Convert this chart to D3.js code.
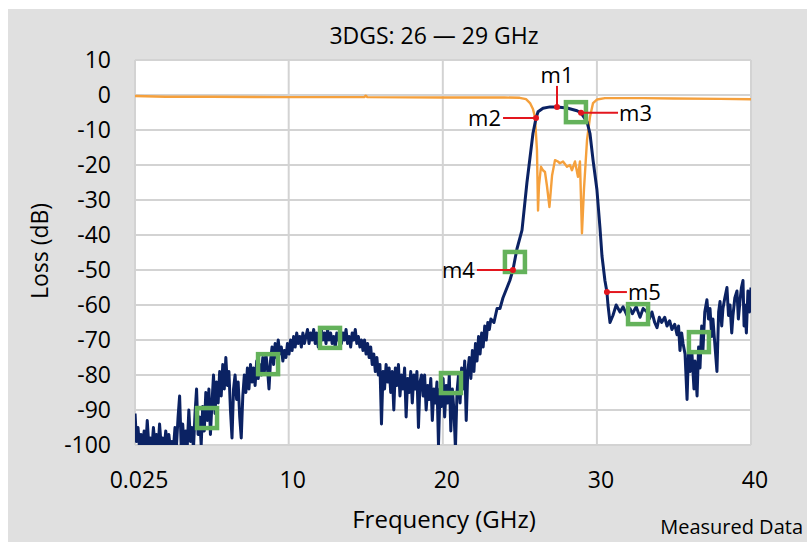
<!DOCTYPE html>
<html>
<head>
<meta charset="utf-8">
<script src="https://cdn.jsdelivr.net/npm/d3@7/dist/d3.min.js"></script>
<style>
  body { margin: 0; background: #fff; }
  text { font-family: "Open Sans", sans-serif; fill: #000; }
</style>
</head>
<body>
<script>
var chartTitle = "3DGS: 26 \u2014 29 GHz";
var xTicks = [0.025, 10, 20, 30, 40];
var yTicks = [10, 0, -10, -20, -30, -40, -50, -60, -70, -80, -90, -100];

/* S21 trace: [freq GHz, loss dB] */
var s21 = [
  [0.03,-91],[0.12,-99],[0.22,-95],[0.32,-101],[0.42,-97],[0.52,-100],[0.62,-96],[0.72,-101],
  [0.82,-93],[0.92,-100],[1.02,-98],[1.12,-101],[1.22,-95],[1.32,-100],[1.42,-97],[1.52,-101],
  [1.62,-94],[1.72,-100],[1.82,-98],[1.92,-101],[2.02,-96],[2.12,-100],[2.22,-97],[2.32,-101],
  [2.42,-99],[2.52,-101],[2.62,-95],[2.72,-100],[2.82,-92],[2.92,-86],[3.02,-100],[3.12,-94],
  [3.22,-101],[3.32,-96],[3.42,-100],[3.52,-90],[3.62,-99],[3.72,-95],[3.82,-101],[3.92,-91],
  [4.02,-84],[4.12,-97],[4.22,-92],[4.32,-100],[4.42,-89],[4.52,-96],[4.62,-85],[4.72,-93],
  [4.82,-84],[4.92,-97],[5.02,-88],[5.12,-80],[5.22,-91],[5.32,-82],[5.42,-88],[5.52,-79],
  [5.62,-86],[5.72,-77],[5.82,-84],[5.92,-75],[6.02,-83],[6.12,-79],[6.22,-90],[6.32,-98],
  [6.42,-84],[6.52,-80],[6.62,-87],[6.72,-82],[6.82,-92],[6.92,-98],[7.02,-86],[7.12,-80],
  [7.22,-85],[7.32,-78],[7.42,-84],[7.52,-77],[7.62,-82],[7.72,-78],[7.82,-83],[7.92,-76],
  [8.02,-81],[8.12,-77],[8.22,-80],[8.32,-75],[8.42,-79],[8.52,-74],[8.62,-78],[8.72,-84],
  [8.82,-76],[8.92,-72],[9.02,-77],[9.12,-71],[9.22,-75],[9.32,-70],[9.42,-74],[9.52,-72],
  [9.62,-76],[9.72,-73],[9.82,-75],[9.92,-71],[10.02,-74],[10.12,-70],[10.22,-73],[10.32,-69],
  [10.42,-72],[10.52,-68],[10.62,-71],[10.72,-69],[10.82,-72],[10.92,-68],[11.02,-71],[11.12,-69],
  [11.22,-67],[11.32,-71],[11.42,-68],[11.52,-70],[11.62,-67],[11.72,-71],[11.82,-68],[11.92,-72],
  [12.02,-69],[12.12,-67],[12.22,-70],[12.32,-68],[12.42,-71],[12.52,-67],[12.62,-70],[12.72,-68],
  [12.82,-71],[12.92,-69],[13.02,-72],[13.12,-68],[13.22,-70],[13.32,-67],[13.42,-71],[13.52,-68],
  [13.62,-70],[13.72,-67],[13.82,-71],[13.92,-69],[14.02,-72],[14.12,-68],[14.22,-70],[14.32,-67],
  [14.42,-71],[14.52,-69],[14.62,-72],[14.72,-70],[14.82,-73],[14.92,-70],[15.02,-74],[15.12,-71],
  [15.22,-75],[15.32,-72],[15.42,-77],[15.52,-74],[15.62,-79],[15.72,-75],[15.82,-80],[15.92,-77],
  [16.02,-94],[16.12,-79],[16.22,-84],[16.32,-77],[16.42,-82],[16.52,-78],[16.62,-85],[16.72,-79],
  [16.82,-90],[16.92,-78],[17.02,-83],[17.12,-77],[17.22,-86],[17.32,-80],[17.42,-84],[17.52,-78],
  [17.62,-92],[17.72,-81],[17.82,-85],[17.92,-79],[18.02,-88],[18.12,-80],[18.22,-84],[18.32,-79],
  [18.42,-95],[18.52,-82],[18.62,-80],[18.72,-86],[18.82,-80],[18.92,-90],[19.02,-83],[19.12,-87],
  [19.22,-81],[19.32,-93],[19.42,-84],[19.52,-88],[19.62,-82],[19.72,-100],[19.82,-84],[19.92,-89],
  [20.02,-81],[20.12,-92],[20.22,-83],[20.32,-88],[20.42,-80],[20.52,-96],[20.62,-84],[20.72,-90],
  [20.82,-101],[20.92,-85],[21.02,-80],[21.12,-88],[21.22,-78],[21.32,-84],[21.42,-76],[21.52,-93],
  [21.62,-79],[21.72,-75],[21.82,-81],[21.92,-73],[22.02,-79],[22.12,-71],[22.22,-76],[22.32,-69],
  [22.42,-74],[22.52,-68],[22.62,-72],[22.72,-66],[22.82,-70],[22.92,-65],[23.02,-67],[23.12,-64],
  [23.32,-65],[23.52,-61],[23.71,-61],[23.9,-58],[24.17,-55],[24.35,-53],[24.55,-50],[24.81,-44],
  [25.14,-38.6],[25.46,-25],[25.85,-11],[26.05,-6.6],[26.18,-4.8],[26.5,-3.8],[26.96,-3.4],[27.41,-3.4],
  [28.06,-3.7],[28.71,-4.5],[28.97,-5.1],[29.36,-7.7],[29.55,-11],[29.75,-18.6],[30.0,-27],[30.2,-38],
  [30.33,-46],[30.52,-53],[30.65,-56.3],[30.72,-60],[30.85,-65],[31.04,-63],[31.25,-60],[31.5,-62],
  [31.7,-60.5],[31.95,-63],[32.15,-61],[32.3,-62.5],[32.55,-60.5],[32.8,-63.5],[33.0,-61],[33.25,-62],
  [33.4,-64],[33.57,-62],[33.75,-65],[33.9,-66.5],[34.05,-63.5],[34.2,-65],[34.4,-63.5],[34.55,-66],
  [34.72,-64.5],[34.87,-67],[35.05,-65.5],[35.2,-68.5],[35.3,-66],[35.39,-73],[35.5,-68],[35.59,-71],
  [35.72,-74],[35.85,-87],[35.95,-72],[36.04,-79],[36.17,-74],[36.3,-84],[36.37,-76],[36.5,-86],
  [36.6,-72],[36.69,-78],[36.8,-66],[36.88,-73],[37.0,-62],[37.14,-58.5],[37.24,-64],[37.34,-61],
  [37.45,-69],[37.53,-64],[37.65,-71],[37.79,-79],[37.9,-62],[37.99,-59],[38.1,-66],[38.18,-61],
  [38.3,-58],[38.44,-55],[38.54,-63],[38.64,-60],[38.75,-68],[38.83,-63],[38.95,-58],[39.09,-56],
  [39.18,-64],[39.28,-59],[39.38,-55],[39.48,-53],[39.55,-66],[39.61,-60],[39.7,-68],[39.8,-56],
  [39.9,-62],[40.0,-55]
];

/* S11 trace */
var s11 = [
  [0.025,-0.3],[2,-0.5],[5,-0.5],[10,-0.6],[14.9,-0.6],[15,-0.2],[15.1,-0.6],[20,-0.7],[24,-0.7],
  [24.99,-0.8],[25.4,-1.2],[25.66,-2.3],[25.85,-4],[25.98,-6.3],[26.11,-15.7],[26.18,-33],[26.24,-26],
  [26.37,-20.5],[26.5,-21.5],[26.63,-22],[26.76,-26],[26.92,-32],[27.09,-23],[27.28,-18.6],[27.47,-19],
  [27.6,-19.5],[27.8,-19],[28.06,-20.5],[28.25,-20],[28.38,-21.5],[28.58,-19],[28.77,-23.4],[28.9,-19],
  [29.03,-39.5],[29.16,-27],[29.36,-12.8],[29.55,-6.3],[29.75,-2.3],[30.0,-1.3],[30.52,-0.9],
  [33,-0.9],[35,-1.0],[38,-1.1],[40,-1.2]
];

/* highlight boxes (green) */
var boxPts = [
  [4.70,-92.3],[8.66,-76.9],[12.68,-69.4],[20.53,-82.3],[24.68,-47.7],[28.64,-4.9],[32.67,-62.6],[36.62,-70.6]
];

/* red markers */
var markerNames = ["m1", "m2", "m3", "m4", "m5"];
var markerFreq  = [27.41, 26.05, 28.97, 24.55, 30.65];
var markerLoss  = [-3.4, -6.6, -5.1, -50, -56.3];

var W = 807, H = 542;
var plot = {left: 135, top: 60, right: 751, bottom: 445};

var svg = d3.select("body").append("svg")
    .attr("width", W)
    .attr("height", H);

svg.append("rect").attr("width", W).attr("height", H).attr("fill", "#fff");
svg.append("rect")
    .attr("x", 8).attr("y", 9)
    .attr("width", W - 8).attr("height", H - 9)
    .attr("fill", "#e0e0e0");

var xScale = d3.scaleLinear().domain([0.025, 40]).range([plot.left, plot.right]);
var yScale = d3.scaleLinear().domain([-100, 10]).range([plot.bottom, plot.top]);

svg.append("rect")
    .attr("x", plot.left).attr("y", plot.top)
    .attr("width", plot.right - plot.left)
    .attr("height", plot.bottom - plot.top)
    .attr("fill", "#fff");

//grid
var grid = svg.append("g").attr("stroke", "#d3d3d3").attr("stroke-width", 2);
grid.selectAll("line.h").data(yTicks).enter().append("line")
    .attr("x1", plot.left).attr("x2", plot.right)
    .attr("y1", function(d){ return yScale(d); })
    .attr("y2", function(d){ return yScale(d); });
grid.selectAll("line.v").data(xTicks).enter().append("line")
    .attr("y1", plot.top).attr("y2", plot.bottom)
    .attr("x1", function(d){ return xScale(d); })
    .attr("x2", function(d){ return xScale(d); });

//tick labels
svg.append("g").selectAll("text").data(yTicks).enter().append("text")
    .attr("x", 111)
    .attr("y", function(d){ return yScale(d); })
    .attr("dy", "0.36em")
    .attr("text-anchor", "end")
    .style("font-size", "23px")
    .text(function(d){ return d; });

svg.append("g").selectAll("text").data(xTicks).enter().append("text")
    .attr("x", function(d){ return xScale(d) + 4; })
    .attr("y", 480)
    .attr("dy", "0.36em")
    .attr("text-anchor", "middle")
    .style("font-size", "23px")
    .text(function(d){ return d; });

//titles
svg.append("text")
    .attr("x", 434).attr("y", 36).attr("dy", "0.36em")
    .attr("text-anchor", "middle")
    .style("font-size", "23px")
    .text(chartTitle);

svg.append("text")
    .attr("transform", "translate(40,251) rotate(-90)")
    .attr("dy", "0.36em")
    .attr("text-anchor", "middle")
    .style("font-size", "23px")
    .text("Loss (dB)");

svg.append("text")
    .attr("x", 444).attr("y", 519).attr("dy", "0.36em")
    .attr("text-anchor", "middle")
    .style("font-size", "24px")
    .text("Frequency (GHz)");

svg.append("text")
    .attr("x", 803).attr("y", 527).attr("dy", "0.36em")
    .attr("text-anchor", "end")
    .style("font-size", "20px")
    .text("Measured Data");

//clip
svg.append("clipPath").attr("id", "plotClip")
  .append("rect")
    .attr("x", plot.left).attr("y", plot.top)
    .attr("width", plot.right - plot.left)
    .attr("height", plot.bottom - plot.top);

var line = d3.line()
    .x(function(d){ return xScale(d[0]); })
    .y(function(d){ return yScale(d[1]); });

var traces = svg.append("g").attr("clip-path", "url(#plotClip)");

traces.append("path")
    .datum(s11)
    .attr("fill", "none")
    .attr("stroke", "#f5a03c")
    .attr("stroke-width", 2.4)
    .attr("stroke-linejoin", "round")
    .attr("d", line);

traces.append("path")
    .datum(s21)
    .attr("fill", "none")
    .attr("stroke", "#0b2263")
    .attr("stroke-width", 3)
    .attr("stroke-linejoin", "round")
    .attr("d", line);

//green boxes
svg.append("g").selectAll("rect").data(boxPts).enter().append("rect")
    .attr("x", function(d){ return xScale(d[0]) - 10; })
    .attr("y", function(d){ return yScale(d[1]) - 10; })
    .attr("width", 20).attr("height", 20)
    .attr("fill", "none")
    .attr("stroke", "#64b25b")
    .attr("stroke-width", 4.5);

//markers: label side and leader length
var markerLayout = {
  m1: {dx: 0, dy: -21},
  m2: {dx: -33, dy: 0},
  m3: {dx: 37, dy: 0},
  m4: {dx: -36, dy: 0},
  m5: {dx: 20, dy: 0}
};

var mk = svg.append("g");
markerNames.forEach(function(name, i){
  var px = xScale(markerFreq[i]), py = yScale(markerLoss[i]);
  var lay = markerLayout[name];
  mk.append("line")
      .attr("x1", px).attr("y1", py)
      .attr("x2", px + lay.dx).attr("y2", py + lay.dy)
      .attr("stroke", "#e3161e").attr("stroke-width", 2);
  mk.append("circle")
      .attr("cx", px).attr("cy", py).attr("r", 3)
      .attr("fill", "#e3161e");
  var t = mk.append("text")
      .style("font-size", "22px")
      .attr("dy", "0.36em")
      .text(name);
  if (lay.dy < 0) {
    t.attr("x", px).attr("y", py + lay.dy - 11).attr("text-anchor", "middle");
  } else if (lay.dx < 0) {
    t.attr("x", px + lay.dx - 2).attr("y", py).attr("text-anchor", "end");
  } else {
    t.attr("x", px + lay.dx + 1).attr("y", py).attr("text-anchor", "start");
  }
});
</script>
</body>
</html>
